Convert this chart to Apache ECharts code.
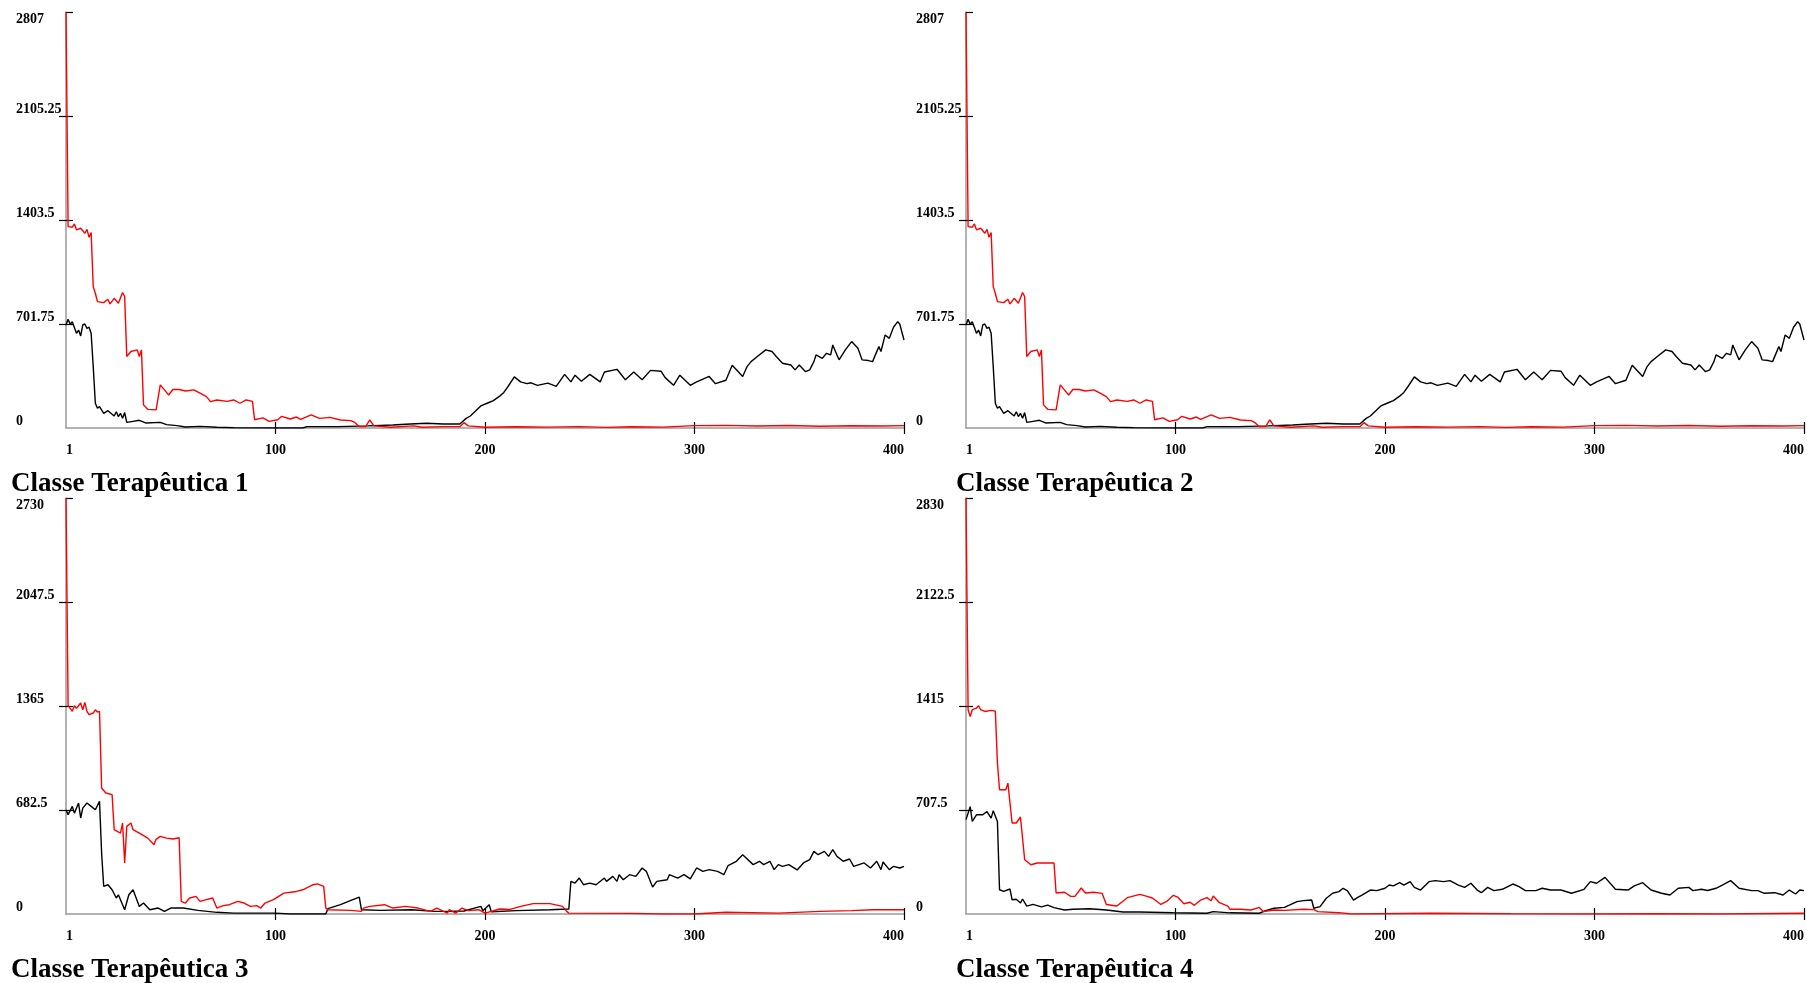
<!DOCTYPE html>
<html>
<head>
<meta charset="utf-8">
<script src="https://cdn.jsdelivr.net/npm/echarts@6.0.0/dist/echarts.min.js"></script>
<style>
  html, body { margin: 0; padding: 0; background: #ffffff; }
  #chart { width: 1807px; height: 983px; }
</style>
</head>
<body>
<div id="chart"></div>
<script>
// ---------- DATA ----------
const panelTitles = ['Classe Terapêutica 1', 'Classe Terapêutica 2', 'Classe Terapêutica 3', 'Classe Terapêutica 4'];
const yMaxValues = [2807, 2807, 2730, 2830];
const xTickValues = [100, 200, 300, 400];
const xLabelFirst = '1';

const class1Red = [[0,2807],[1,1359],[3,1355],[4,1377],[5,1337],[7,1348],[9,1314],[10,1340],[11,1287],[12,1319],[13,954],[14,909],[15,853],[18,846],[20,869],[21,837],[23,875],[25,842],[27,914],[28,887],[29,482],[31,516],[34,527],[35,482],[36,527],[37,156],[39,126],[43,122],[45,291],[47,257],[49,223],[51,260],[54,260],[57,250],[61,257],[64,235],[67,212],[69,178],[72,189],[77,180],[80,189],[83,167],[86,189],[89,180],[90,56],[94,68],[97,45],[101,56],[103,79],[107,61],[110,74],[112,58],[117,88],[121,65],[126,72],[131,54],[136,50],[138,36],[140,9],[143,9],[145,54],[147,14],[155,5],[166,14],[170,5],[180,9],[188,9],[190,36],[192,14],[200,5],[215,8],[230,6],[245,9],[258,4],[270,8],[285,6],[300,16],[315,18],[330,14],[345,17],[360,12],[375,15],[390,13],[400,16]];
const class1Black = [[0,695],[1,733],[2,700],[3,717],[5,639],[6,661],[7,621],[8,695],[9,702],[10,672],[11,680],[12,639],[13,414],[14,167],[15,133],[16,144],[18,99],[20,117],[23,81],[24,110],[25,77],[26,99],[27,66],[28,104],[29,38],[32,45],[35,52],[38,34],[45,38],[48,23],[53,16],[57,7],[64,11],[72,5],[80,2],[100,0],[113,0],[115,9],[130,9],[144,14],[156,20],[162,25],[172,32],[180,27],[188,27],[191,65],[193,81],[196,122],[198,149],[201,167],[204,185],[207,215],[209,240],[211,280],[214,345],[217,311],[220,299],[222,305],[225,288],[230,303],[234,281],[238,362],[241,311],[243,356],[246,315],[250,362],[255,311],[257,378],[263,396],[267,326],[271,378],[275,326],[279,389],[284,383],[286,340],[290,288],[293,356],[298,288],[301,311],[307,348],[310,299],[315,322],[318,423],[323,348],[325,412],[327,448],[330,482],[334,527],[337,516],[339,482],[342,437],[346,425],[348,392],[350,425],[353,380],[355,392],[357,448],[358,493],[361,470],[363,504],[365,493],[366,560],[368,493],[369,460],[372,527],[375,583],[378,538],[380,460],[383,455],[385,448],[388,549],[389,516],[391,628],[393,605],[395,680],[397,718],[398,700],[400,594]];
// panels 1 and 2 show the same curves in the reference
const class2Red = class1Red;
const class2Black = class1Black;

const class3Red = [[0,2730],[1,1367],[3,1330],[4,1367],[5,1350],[7,1385],[8,1340],[9,1389],[10,1330],[11,1308],[13,1319],[14,1340],[15,1325],[16,1330],[17,827],[19,794],[22,783],[23,553],[26,531],[27,597],[28,335],[29,575],[31,597],[32,553],[35,531],[39,498],[42,455],[43,490],[45,509],[48,498],[51,492],[54,500],[55,83],[57,72],[59,105],[62,116],[64,83],[67,94],[70,105],[72,39],[75,55],[78,61],[82,83],[85,72],[88,50],[91,55],[93,39],[95,72],[99,94],[104,137],[110,148],[113,159],[118,192],[120,198],[123,181],[124,39],[125,28],[136,24],[141,17],[142,39],[145,50],[152,61],[156,39],[162,50],[168,39],[174,17],[177,39],[182,6],[183,28],[186,6],[189,39],[192,22],[197,28],[200,6],[207,33],[212,30],[217,50],[223,68],[231,68],[237,50],[239,17],[240,6],[270,4],[285,0],[300,0],[315,11],[340,6],[360,17],[375,22],[385,28],[400,28]];
const class3Black = [[0,684],[1,652],[3,706],[4,662],[6,728],[7,630],[8,695],[10,728],[12,706],[14,684],[16,739],[17,400],[18,181],[20,192],[22,159],[24,105],[25,126],[28,28],[30,126],[32,159],[35,50],[37,72],[40,28],[44,39],[47,17],[50,39],[56,39],[63,24],[72,11],[80,6],[100,6],[107,0],[124,0],[125,35],[131,61],[136,89],[140,111],[141,28],[150,24],[165,28],[176,17],[183,17],[190,20],[198,50],[199,22],[202,61],[203,15],[215,22],[231,28],[240,33],[241,214],[243,203],[245,236],[247,192],[250,203],[253,192],[257,236],[258,214],[261,247],[263,214],[264,258],[266,225],[269,258],[272,247],[275,302],[277,280],[280,177],[282,214],[287,225],[288,258],[292,236],[295,258],[298,230],[301,302],[304,280],[307,291],[311,280],[314,258],[316,317],[320,346],[323,389],[328,324],[331,346],[333,324],[336,346],[338,291],[340,324],[342,313],[345,324],[349,289],[352,335],[355,357],[357,411],[359,389],[362,411],[364,378],[366,422],[368,378],[371,346],[374,361],[376,313],[381,335],[384,302],[387,346],[389,291],[390,341],[393,291],[395,313],[398,302],[400,313]];

const class4Red = [[0,2830],[1,1390],[2,1344],[3,1390],[5,1401],[6,1417],[7,1390],[9,1378],[12,1385],[14,1380],[15,1027],[16,845],[19,845],[20,890],[22,619],[24,619],[26,660],[28,369],[31,335],[34,347],[38,347],[42,347],[43,143],[47,148],[50,120],[52,120],[55,177],[57,143],[61,148],[65,140],[67,65],[72,54],[77,111],[83,134],[86,122],[89,109],[93,65],[96,88],[99,127],[101,115],[104,70],[107,80],[109,59],[112,95],[115,111],[117,90],[118,122],[121,77],[125,54],[126,32],[131,32],[136,27],[140,45],[142,16],[147,27],[152,25],[161,32],[166,30],[168,16],[178,9],[184,0],[222,5],[260,2],[300,0],[330,2],[360,0],[400,5]];
const class4Black = [[0,642],[2,730],[3,630],[5,675],[8,675],[10,697],[12,652],[13,703],[15,630],[16,165],[18,154],[21,170],[22,97],[24,100],[26,75],[27,102],[29,54],[32,65],[36,48],[39,60],[42,43],[47,27],[51,32],[59,36],[67,27],[75,14],[83,14],[99,9],[115,5],[118,16],[126,8],[140,5],[143,23],[147,39],[152,45],[158,84],[161,91],[165,95],[166,39],[169,50],[172,107],[175,141],[178,152],[180,175],[182,159],[185,95],[187,113],[189,129],[193,163],[196,159],[200,175],[202,197],[204,191],[207,213],[209,197],[212,220],[214,181],[217,163],[221,220],[224,227],[228,220],[231,227],[235,197],[238,181],[241,209],[244,163],[246,145],[249,181],[252,159],[256,168],[261,204],[264,186],[267,159],[272,159],[275,175],[279,163],[284,163],[289,141],[295,168],[298,220],[301,209],[305,249],[310,168],[316,163],[319,191],[323,213],[327,163],[332,141],[336,129],[340,175],[345,181],[347,159],[351,168],[354,160],[358,175],[361,197],[365,227],[369,175],[375,159],[378,159],[381,141],[386,145],[390,129],[393,163],[396,136],[398,163],[400,159]];

const redSeries = [class1Red, class2Red, class3Red, class4Red];
const blackSeries = [class1Black, class2Black, class3Black, class4Black];

// ---------- LAYOUT / STYLE ----------
const gridLeft = [66, 966, 66, 966];
const gridTop = [12, 12, 498, 498];
const gridW = 838, gridH = 416;
const titleLeft = [11, 956, 11, 956];
const titleTop = [471, 471, 957, 957];
const serif = 'Liberation Serif';
const axisGray = '#9a9a9a';

const grids = [], xAxes = [], yAxes = [], series = [], titles = [];
for (let i = 0; i < 4; i++) {
  const ymax = yMaxValues[i];
  const q = ymax / 4;
  const yTicks = [q, 2 * q, 3 * q, 4 * q];
  grids.push({ left: gridLeft[i], top: gridTop[i], width: gridW, height: gridH, containLabel: false, outerBoundsMode: 'none' });
  titles.push({ text: panelTitles[i], left: titleLeft[i], top: titleTop[i], padding: 0,
    textStyle: { fontFamily: serif, fontWeight: 'bold', fontSize: 27, color: '#000' } });
  const labelStyle = { fontFamily: serif, fontWeight: 'bold', fontSize: 14, color: '#000' };
  xAxes.push({ type: 'value', gridIndex: i, min: 0, max: 400, interval: 100, position: 'bottom',
    axisLine: { show: true, lineStyle: { color: axisGray, width: 1.5 } },
    axisTick: { show: true, inside: false, length: 6, customValues: xTickValues, lineStyle: { color: '#000', width: 1.2 } },
    axisLabel: Object.assign({ margin: 15, alignMinLabel: 'left', alignMaxLabel: 'right',
      formatter: v => (v === 0 ? xLabelFirst : String(v)) }, labelStyle),
    splitLine: { show: false } });
  xAxes.push({ type: 'value', gridIndex: i, min: 0, max: 400, interval: 100, position: 'bottom',
    axisLine: { show: false },
    axisTick: { show: true, inside: true, length: 6, customValues: xTickValues, lineStyle: { color: '#000', width: 1.2 } },
    axisLabel: { show: false }, splitLine: { show: false } });
  yAxes.push({ type: 'value', gridIndex: i, min: 0, max: ymax, interval: q, position: 'left',
    axisLine: { show: true, lineStyle: { color: axisGray, width: 1.5 } },
    axisTick: { show: true, inside: false, length: 7, customValues: yTicks, lineStyle: { color: '#000', width: 1.2 } },
    axisLabel: Object.assign({ margin: 50, align: 'left', verticalAlign: 'bottom', lineHeight: 13, showMaxLabel: false,
      formatter: v => String(v) }, labelStyle),
    splitLine: { show: false } });
  yAxes.push({ type: 'value', gridIndex: i, min: 0, max: ymax, interval: q, position: 'left',
    axisLine: { show: false },
    axisTick: { show: true, inside: true, length: 7, customValues: yTicks, lineStyle: { color: '#000', width: 1.2 } },
    axisLabel: Object.assign({ margin: 50, align: 'left', verticalAlign: 'top', lineHeight: 15,
      formatter: v => (Math.abs(v - ymax) < 1e-6 ? String(ymax) : '') }, labelStyle),
    splitLine: { show: false } });
  series.push({ type: 'line', xAxisIndex: 2 * i, yAxisIndex: 2 * i, data: blackSeries[i],
    showSymbol: false, symbol: 'none', lineStyle: { color: '#000', width: 1.4 }, z: 3 });
  series.push({ type: 'line', xAxisIndex: 2 * i, yAxisIndex: 2 * i, data: redSeries[i],
    showSymbol: false, symbol: 'none', lineStyle: { color: '#ff0000', width: 1.4 }, z: 4 });
}

const chart = echarts.init(document.getElementById('chart'), null, { renderer: 'canvas' });
chart.setOption({
  animation: false,
  backgroundColor: '#ffffff',
  title: titles,
  grid: grids,
  xAxis: xAxes,
  yAxis: yAxes,
  series: series
});
</script>
</body>
</html>
